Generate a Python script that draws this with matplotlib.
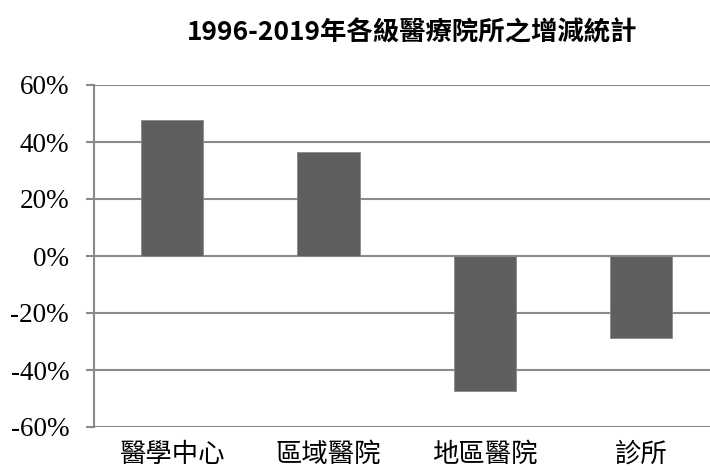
import matplotlib.pyplot as plt

categories = ['醫學中心', '區域醫院', '地區醫院', '診所']
values = [47.8, 36.6, -47.3, -28.8]
yticks = [-60, -40, -20, 0, 20, 40, 60]

fig = plt.figure(figsize=(7.1, 4.7), dpi=100)
ax = fig.add_axes([94 / 710, 43 / 470, 1 - 94 / 710, 342 / 470])

x = range(len(categories))
ax.bar(x, values, width=0.4, color='#5f5f5f', edgecolor='#8a8a8a', linewidth=0.6, zorder=3)

ax.set_ylim(-60, 60)
ax.set_xlim(-0.5, 3.44)
ax.set_yticks(yticks)
ax.set_yticklabels([f'{v}%' for v in yticks], family='Liberation Serif', fontsize=19.5)
ax.set_xticks(list(x))
ax.set_xticklabels(categories, family=['Noto Sans CJK TC', 'DejaVu Sans'], fontsize=19, fontweight='light')
ax.tick_params(axis='x', length=0, pad=10)
ax.tick_params(axis='y', length=6, width=1.5, color='#8a8a8a', pad=12)
ax.yaxis.grid(True, color='#8a8a8a', linewidth=1.5, zorder=0)

for s in ['top', 'right', 'bottom']:
    ax.spines[s].set_visible(False)
ax.spines['left'].set_color('#8a8a8a')
ax.spines['left'].set_linewidth(1.5)

fig.text(412 / 710, 1 - 33 / 470, '1996-2019年各級醫療院所之增減統計',
         family=['Noto Sans CJK TC', 'DejaVu Sans'], fontsize=19, fontweight='bold',
         ha='center', va='center')

plt.savefig('out.png', dpi=100)
